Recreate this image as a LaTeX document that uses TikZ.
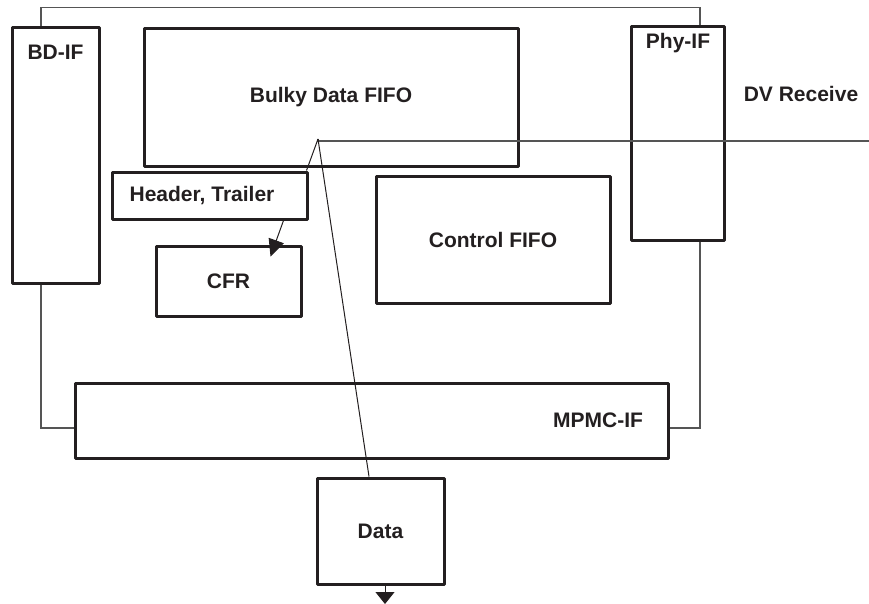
\documentclass[tikz,border=0pt]{standalone}
\usepackage{fontspec}
\setmainfont{Liberation Sans}
\usetikzlibrary{arrows.meta}
\definecolor{ink}{HTML}{231F20}
\definecolor{wirec}{HTML}{555555}
\begin{document}
\begin{tikzpicture}[x=1pt,y=-1pt,
  box/.style={draw=ink, line width=3pt, line join=round, rectangle, inner sep=0pt,
              font=\bfseries\fontsize{21}{25}\selectfont, text=ink},
  lbl/.style={inner sep=0pt, font=\bfseries\fontsize{21}{25}\selectfont, text=ink},
  wire/.style={draw=wirec, line width=1.2pt},
  link/.style={draw=ink, line width=1pt}]
\useasboundingbox (0,0) rectangle (869,603);

% boxes
\node[box, minimum width=87pt,  minimum height=256pt] (bdif)    at (55.5,155) {};
\node[box, minimum width=374pt, minimum height=138pt] (bulky)   at (331,97) {Bulky Data FIFO};
\node[box, minimum width=93pt,  minimum height=214pt] (phyif)   at (677.5,133) {};
\node[box, minimum width=195pt, minimum height=47pt]  (header)  at (209.5,195.5) {};
\node[box, minimum width=145pt, minimum height=70pt]  (cfr)     at (228.5,281) {CFR};
\node[box, minimum width=234pt, minimum height=127pt] (control) at (493,239.5) {Control FIFO};
\node[box, minimum width=593pt, minimum height=75pt]  (mpmc)    at (371.5,420.5) {};
\node[box, minimum width=127pt, minimum height=106pt] (data)    at (380.5,531) {Data};

% off-centre labels
\node[lbl] (bdiftext)   at (55.5,52)  {BD-IF};
\node[lbl] (phyiftext)  at (678,43)   {Phy-IF};
\node[lbl] (dvtext)     at (801,94)   {DV Receive};
\node[lbl] (headertext) at (202,196)  {Header, Trailer};
\node[lbl] (mpmctext)   at (598,420)  {MPMC-IF};

% outer wires
\coordinate (lx) at (41,0);
\coordinate (rx) at (700,0);
\draw[wire] (bdif.north -| lx) -- ++(0,-18) -| (phyif.north -| rx);
\draw[wire] (bdif.south -| lx) |- ([yshift=-7.5pt]mpmc.west);
\draw[wire] (phyif.south -| rx) |- ([yshift=-7.5pt]mpmc.east);

% DV receive line and branches
\coordinate (apex) at (318,139);
\coordinate (dvend) at (869,141);
\draw[wire] (apex) -- (apex |- dvend) -- (dvend);
\draw[link] (apex) -- ([xshift=-2pt]header.north east);
\draw[link] (apex) -- ([xshift=-11.5pt]data.north);

% arrows
\draw[link, -{Triangle[length=17pt,width=16pt]}] ([xshift=173pt]header.south west) -- ([xshift=42pt,yshift=-12pt]cfr.north);
\draw[link, -{Triangle[length=12pt,width=19pt]}] ([xshift=4.5pt]data.south) -- ++(0,18.5);
\end{tikzpicture}
\end{document}
